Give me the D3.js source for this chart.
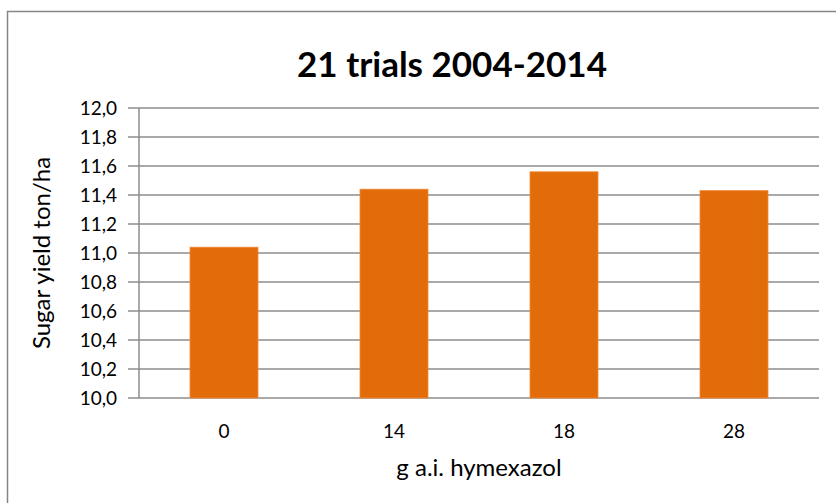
<!DOCTYPE html>
<html>
<head>
<meta charset="utf-8">
<script src="https://cdn.jsdelivr.net/npm/d3@7"></script>
<style>
  body { margin: 0; background: #fff; }
  svg text { font-family: Lato, "Open Sans", sans-serif; fill: #000; }
</style>
</head>
<body>
<div id="chart"></div>
<script>
// values
const doses = ["0", "14", "18", "28"];
const sugarYield = [11.04, 11.44, 11.56, 11.43];
const yTicks = [10.0, 10.2, 10.4, 10.6, 10.8, 11.0, 11.2, 11.4, 11.6, 11.8, 12.0];

const width = 836;
const height = 503;
const margin = { top: 108, right: 17, bottom: 105, left: 139 };
const plotW = width - margin.left - margin.right;
const plotH = height - margin.top - margin.bottom;

const svg = d3.select("#chart")
  .append("svg")
  .attr("width", width)
  .attr("height", height);

// outer chart frame (only top and left are visible in the picture)
svg.append("rect")
  .attr("x", 7.5)
  .attr("y", 11.5)
  .attr("width", 900)
  .attr("height", 600)
  .attr("fill", "none")
  .attr("stroke", "#868686")
  .attr("stroke-width", 1.5);

const g = svg.append("g")
  .attr("transform", `translate(${margin.left},${margin.top})`);

const x = d3.scaleBand().domain(doses).range([0, plotW]).paddingInner(0.6).paddingOuter(0.3);
const y = d3.scaleLinear().domain([10, 12]).range([plotH, 0]);

const fmt = d => d3.format(".1f")(d).replace(".", ",");

// gridlines (with the small tick stub left of the axis)
g.selectAll("line.grid")
  .data(yTicks)
  .enter()
  .append("line")
  .attr("class", "grid")
  .attr("x1", -11)
  .attr("x2", plotW)
  .attr("y1", d => y(d))
  .attr("y2", d => y(d))
  .attr("stroke", "#8c8c8c")
  .attr("stroke-width", 1.5);

// y axis line
g.append("line")
  .attr("x1", 0).attr("x2", 0)
  .attr("y1", 0).attr("y2", plotH)
  .attr("stroke", "#8c8c8c")
  .attr("stroke-width", 1.5);

// bars
g.selectAll("rect.bar")
  .data(sugarYield)
  .enter()
  .append("rect")
  .attr("class", "bar")
  .attr("x", (d, i) => x(doses[i]))
  .attr("y", d => y(d))
  .attr("width", x.bandwidth())
  .attr("height", d => plotH - y(d))
  .attr("fill", "#e36c0a")
  .attr("stroke", "#f08a3a")
  .attr("stroke-width", 0.8);

// y tick labels
g.selectAll("text.ytick")
  .data(yTicks)
  .enter()
  .append("text")
  .attr("class", "ytick")
  .attr("x", -22)
  .attr("y", d => y(d))
  .attr("dy", "0.35em")
  .attr("text-anchor", "end")
  .style("font-size", "19px")
  .text(fmt);

// x tick labels
g.selectAll("text.xtick")
  .data(doses)
  .enter()
  .append("text")
  .attr("class", "xtick")
  .attr("x", d => x(d) + x.bandwidth() / 2)
  .attr("y", 438 - margin.top)
  .attr("text-anchor", "middle")
  .style("font-size", "19px")
  .text(d => d);

// titles
svg.append("text")
  .attr("x", 452)
  .attr("y", 77)
  .attr("text-anchor", "middle")
  .style("font-size", "35px")
  .style("font-weight", "bold")
  .text("21 trials 2004-2014");

svg.append("text")
  .attr("x", margin.left + plotW / 2)
  .attr("y", 476)
  .attr("text-anchor", "middle")
  .style("font-size", "24px")
  .text("g a.i. hymexazol");

svg.append("text")
  .attr("transform", "translate(50,253) rotate(-90)")
  .attr("text-anchor", "middle")
  .style("font-size", "24px")
  .text("Sugar yield ton/ha");
</script>
</body>
</html>
